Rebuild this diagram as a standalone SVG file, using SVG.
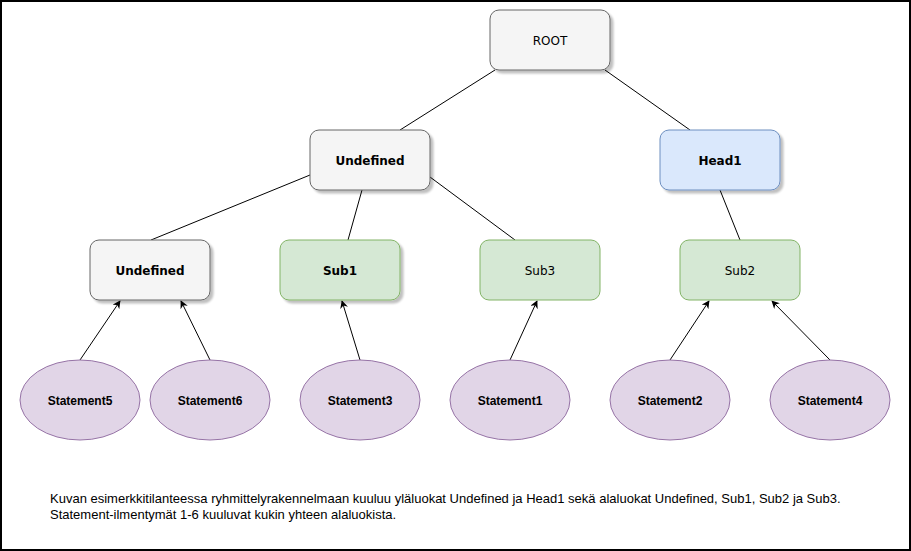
<svg xmlns="http://www.w3.org/2000/svg" width="911" height="551" viewBox="0 0 911 551">
<style>
.box{stroke-width:1}
.gray{fill:#f5f5f5;stroke:#666666}
.blue{fill:#dae8fc;stroke:#6c8ebf}
.green{fill:#d5e8d4;stroke:#82b366}
.ell{fill:#e1d5e7;stroke:#9673a6;stroke-width:1}
.lbl{font-family:"DejaVu Sans",Verdana,sans-serif;font-size:12px;fill:#000;text-anchor:middle;dominant-baseline:central}
.b{font-weight:bold}
.st{font-family:"Liberation Sans",Arial,sans-serif;font-size:12px;font-weight:bold;fill:#000;text-anchor:middle;dominant-baseline:central}
.ln{stroke:#000;stroke-width:1;fill:none}
.ar{stroke:#000;stroke-width:1;fill:none;marker-end:url(#arr)}
.note{font-family:"Liberation Sans",Arial,sans-serif;font-size:13px;fill:#000}
</style>
<defs>
<marker id="arr" viewBox="0 0 10 10" refX="9" refY="5" markerWidth="8" markerHeight="8" markerUnits="userSpaceOnUse" orient="auto">
<path d="M0,0 L10,5 L0,10 L3,5 Z" fill="#000"/>
</marker>
<filter id="sh" x="-10%" y="-10%" width="130%" height="130%">
<feOffset dx="3" dy="3" in="SourceAlpha" result="o"/>
<feGaussianBlur in="o" stdDeviation="1" result="b"/>
<feComponentTransfer in="b" result="c"><feFuncA type="linear" slope="0.25"/></feComponentTransfer>
<feMerge><feMergeNode in="c"/><feMergeNode in="SourceGraphic"/></feMerge>
</filter>
</defs>
<rect x="1" y="1" width="909" height="549" fill="#fff" stroke="#000" stroke-width="2"/>
<g id="connectors">
<line class="ln" x1="495" y1="70" x2="400" y2="130"/>
<line class="ln" x1="605" y1="70" x2="690" y2="130"/>
<line class="ln" x1="310" y1="175" x2="151" y2="240"/>
<line class="ln" x1="362" y1="190" x2="348" y2="240"/>
<line class="ln" x1="430" y1="177" x2="515" y2="240"/>
<line class="ln" x1="720" y1="190" x2="740" y2="240"/>
<line class="ar" x1="80" y1="360" x2="120" y2="301"/>
<line class="ar" x1="210" y1="360" x2="181" y2="301"/>
<line class="ar" x1="360" y1="360" x2="342" y2="301"/>
<line class="ar" x1="510" y1="360" x2="537" y2="301"/>
<line class="ar" x1="670" y1="360" x2="709" y2="301"/>
<line class="ar" x1="830" y1="360" x2="772" y2="301"/>
</g>
<g id="root"><rect class="box gray" filter="url(#sh)" x="490" y="10" width="120" height="60" rx="9"/><text class="lbl" x="550" y="41" font-size="11">ROOT</text></g>
<g id="undefined1"><rect class="box gray" filter="url(#sh)" x="310" y="130" width="120" height="60" rx="9"/><text class="lbl b" x="370" y="161">Undefined</text></g>
<g id="head1"><rect class="box blue" filter="url(#sh)" x="660" y="130" width="120" height="60" rx="9"/><text class="lbl b" x="720" y="161">Head1</text></g>
<g id="undefined2"><rect class="box gray" filter="url(#sh)" x="90" y="240" width="120" height="60" rx="9"/><text class="lbl b" x="150" y="271">Undefined</text></g>
<g id="sub1"><rect class="box green" filter="url(#sh)" x="280" y="240" width="120" height="60" rx="9"/><text class="lbl b" x="340" y="271">Sub1</text></g>
<g id="sub3"><rect class="box green" x="480" y="240" width="120" height="60" rx="9"/><text class="lbl" x="540" y="271" font-size="11">Sub3</text></g>
<g id="sub2"><rect class="box green" x="680" y="240" width="120" height="60" rx="9"/><text class="lbl" x="740" y="271">Sub2</text></g>
<g id="statement5"><ellipse class="ell" cx="80" cy="400" rx="60" ry="40"/><text class="st" x="80" y="401">Statement5</text></g>
<g id="statement6"><ellipse class="ell" cx="210" cy="400" rx="60" ry="40"/><text class="st" x="210" y="401">Statement6</text></g>
<g id="statement3"><ellipse class="ell" cx="360" cy="400" rx="60" ry="40"/><text class="st" x="360" y="401">Statement3</text></g>
<g id="statement1"><ellipse class="ell" cx="510" cy="400" rx="60" ry="40"/><text class="st" x="510" y="401">Statement1</text></g>
<g id="statement2"><ellipse class="ell" cx="670" cy="400" rx="60" ry="40"/><text class="st" x="670" y="401">Statement2</text></g>
<g id="statement4"><ellipse class="ell" cx="830" cy="400" rx="60" ry="40"/><text class="st" x="830" y="401">Statement4</text></g>
<g id="note">
<text class="note" x="50" y="503">Kuvan esimerkkitilanteessa ryhmittelyrakennelmaan kuuluu yläluokat Undefined ja Head1 sekä alaluokat Undefined, Sub1, Sub2 ja Sub3.</text>
<text class="note" x="50" y="519">Statement-ilmentymät 1-6 kuuluvat kukin yhteen alaluokista.</text>
</g>
</svg>
